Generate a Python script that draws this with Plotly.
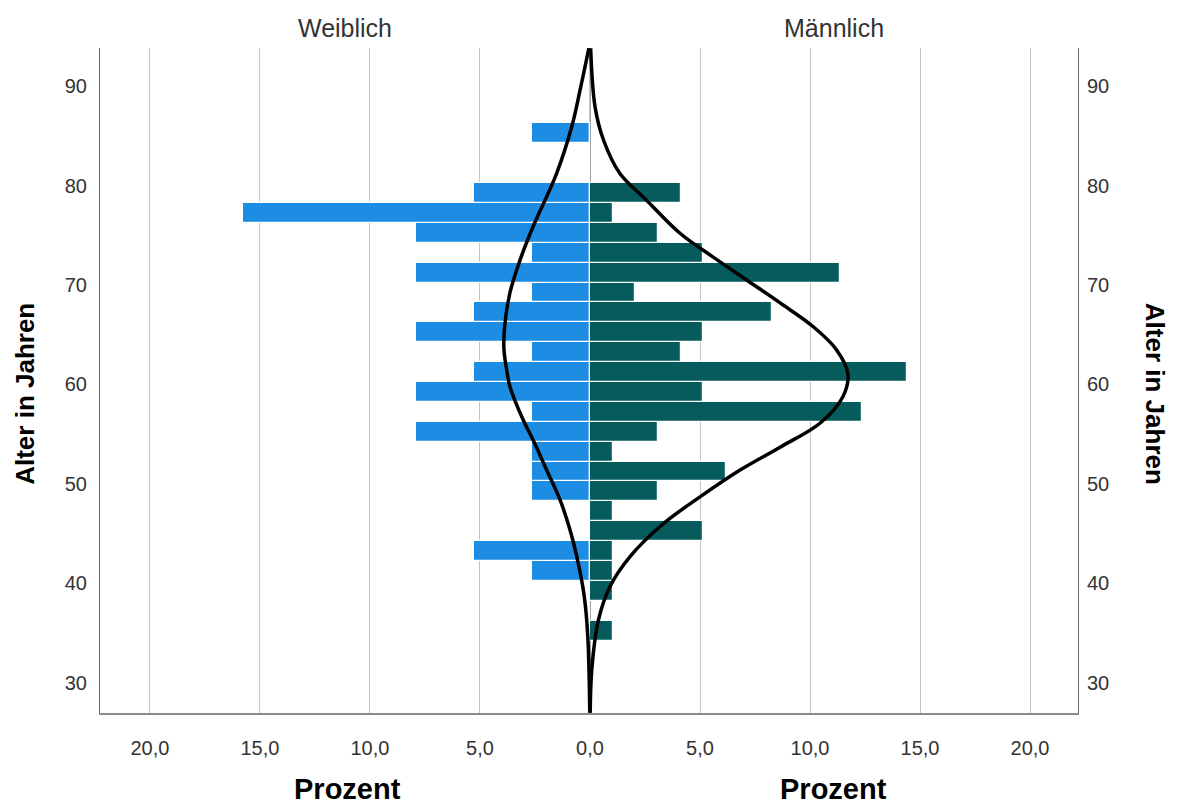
import plotly.graph_objects as go

# ---- data ----
age_bins = [35.25, 37.25, 39.25, 41.25, 43.25, 45.25, 47.25, 49.25, 51.25, 53.25,
            55.25, 57.25, 59.25, 61.25, 63.25, 65.25, 67.25, 69.25, 71.25, 73.25,
            75.25, 77.25, 79.25, 81.25, 83.25, 85.25]
female_pct = [0, 0, 0, 2.63, 5.26, 0, 0, 2.63, 2.63, 2.63,
              7.89, 2.63, 7.89, 5.26, 2.63, 7.89, 5.26, 2.63, 7.89, 2.63,
              7.89, 15.79, 5.26, 0, 0, 2.63]
male_pct = [1.03, 0, 1.03, 1.03, 1.03, 5.15, 1.03, 3.09, 6.19, 1.03,
            3.09, 12.37, 5.15, 14.43, 4.12, 5.15, 8.25, 2.06, 11.34, 5.15,
            3.09, 1.03, 4.12, 0, 0, 0]

# normal curves
female_curve_age = [93.8, 89.6, 85.9, 81.2, 75.9, 72.5, 69.2, 65.8, 63.5,
                    61.0, 59.8, 56.4, 54.4, 51.4, 48.4, 45.4, 42.0, 38.7, 34.7, 27.0]
female_curve_pct = [0.05, 0.45, 0.83, 1.52, 2.58, 3.18, 3.64, 3.88, 3.91,
                    3.75, 3.64, 3.03, 2.58, 1.97, 1.36, 0.91, 0.53, 0.26, 0.10, 0.01]
male_curve_age = [93.8, 87.9, 84.6, 81.2, 78.5, 75.2, 72.8, 70.5, 68.2, 65.8, 63.5,
                  61.1, 58.8, 56.1, 53.7, 51.4, 48.7, 46.0, 42.7, 39.7, 36.3, 31.3, 27.0]
male_curve_pct = [0.03, 0.23, 0.61, 1.36, 2.58, 4.09, 5.6, 7.12, 8.64, 10.15, 11.2,
                  11.72, 11.5, 10.45, 8.64, 6.82, 5.0, 3.33, 1.82, 0.91, 0.38, 0.08, 0.01]

x_tickvals = [-20, -15, -10, -5, 0, 5, 10, 15, 20]
x_ticktext = ["20,0", "15,0", "10,0", "5,0", "0,0", "5,0", "10,0", "15,0", "20,0"]
y_tickvals = [30, 40, 50, 60, 70, 80, 90]

BIN_WIDTH = 2
FEMALE_COLOR = "#1C8DE3"
MALE_COLOR = "#065C5C"
FONT = "Liberation Sans, Arial, sans-serif"

fig = go.Figure()
fig.add_trace(go.Bar(
    y=age_bins, x=[-v for v in female_pct], orientation="h", width=BIN_WIDTH,
    marker=dict(color=FEMALE_COLOR, line=dict(color="white", width=1.2)),
    name="Weiblich", showlegend=False))
fig.add_trace(go.Bar(
    y=age_bins, x=male_pct, orientation="h", width=BIN_WIDTH,
    marker=dict(color=MALE_COLOR, line=dict(color="white", width=1.2)),
    name="Männlich", showlegend=False))
fig.add_trace(go.Scatter(
    x=[-v for v in female_curve_pct], y=female_curve_age, mode="lines",
    line=dict(color="black", width=3.5, shape="spline"), showlegend=False))
fig.add_trace(go.Scatter(
    x=male_curve_pct, y=male_curve_age, mode="lines", yaxis="y2",
    line=dict(color="black", width=3.5, shape="spline"), showlegend=False))

yrange = [26.98, 93.82]
fig.update_layout(
    width=1177, height=808,
    margin=dict(l=100, r=99, t=48, b=95),
    paper_bgcolor="white", plot_bgcolor="white",
    barmode="overlay", bargap=0,
    font=dict(family=FONT, color="#333333"),
    xaxis=dict(range=[-22.27, 22.18], tickvals=x_tickvals, ticktext=x_ticktext,
               showgrid=True, gridcolor="#C4C4C4", gridwidth=1, zeroline=False,
               showline=True, linecolor="#8C8C8C", linewidth=2, ticks="",
               ticklabelstandoff=16, tickfont=dict(size=20, color="#333333")),
    yaxis=dict(range=yrange, tickvals=y_tickvals, showgrid=False, zeroline=False,
               showline=True, mirror=True, linecolor="#666666", linewidth=1,
               ticks="", ticklabelstandoff=8, tickfont=dict(size=20, color="#333333")),
    yaxis2=dict(range=yrange, tickvals=y_tickvals, overlaying="y", side="right",
                showgrid=False, zeroline=False, showline=False, ticks="",
                ticklabelstandoff=8, tickfont=dict(size=20, color="#333333")),
    shapes=[dict(type="line", xref="x", yref="paper", x0=0, x1=0, y0=0, y1=1,
                 line=dict(color="#444444", width=1), layer="below")],
    annotations=[
        dict(text="Weiblich", xref="paper", yref="paper", x=0.2505, y=1, yshift=20,
             showarrow=False, xanchor="center", yanchor="middle",
             font=dict(size=25, color="#333333")),
        dict(text="Männlich", xref="paper", yref="paper", x=0.7505, y=1, yshift=20,
             showarrow=False, xanchor="center", yanchor="middle",
             font=dict(size=25, color="#333333")),
        dict(text="<b>Prozent</b>", xref="paper", yref="paper", x=0.2526, y=0, yshift=-76,
             showarrow=False, xanchor="center", yanchor="middle",
             font=dict(size=29, color="black")),
        dict(text="<b>Prozent</b>", xref="paper", yref="paper", x=0.7505, y=0, yshift=-76,
             showarrow=False, xanchor="center", yanchor="middle",
             font=dict(size=29, color="black")),
        dict(text="<b>Alter in Jahren</b>", xref="paper", yref="paper", x=0, xshift=-75,
             y=0.48, showarrow=False, textangle=-90, xanchor="center", yanchor="middle",
             font=dict(size=26, color="black")),
        dict(text="<b>Alter in Jahren</b>", xref="paper", yref="paper", x=1, xshift=77,
             y=0.48, showarrow=False, textangle=90, xanchor="center", yanchor="middle",
             font=dict(size=26, color="black")),
    ],
)

fig.write_html("out.html", config={"displayModeBar": False},
               post_script="document.body.style.margin='0';document.body.style.overflow='hidden';")
